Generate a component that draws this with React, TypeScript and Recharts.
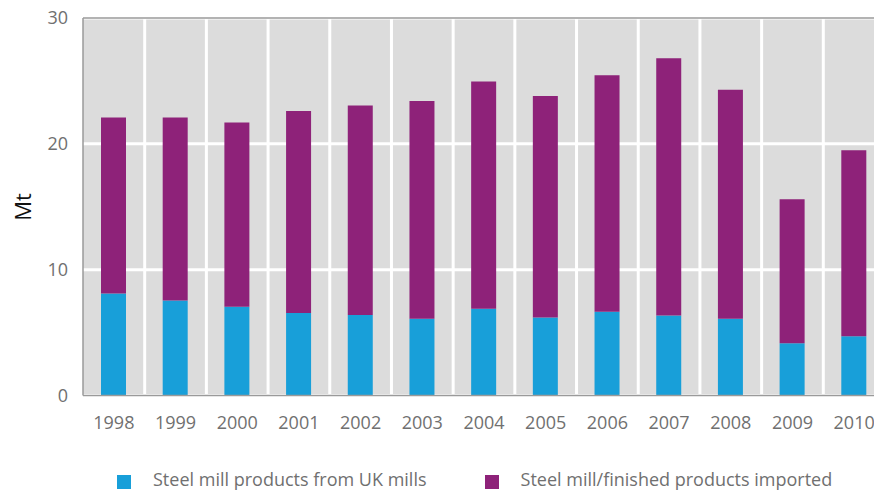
import React from 'react';
import { BarChart, Bar, XAxis, YAxis, CartesianGrid, ReferenceLine } from 'recharts';

const years = ['1998','1999','2000','2001','2002','2003','2004','2005','2006','2007','2008','2009','2010'];
const ukMills = [8.1, 7.55, 7.05, 6.55, 6.4, 6.1, 6.9, 6.2, 6.65, 6.35, 6.1, 4.15, 4.7];
const imported = [14.0, 14.55, 14.65, 16.05, 16.65, 17.3, 18.05, 17.6, 18.8, 20.45, 18.2, 11.45, 14.8];
const yTicks = [0, 10, 20, 30];

const seriesNames = ['Steel mill products from UK mills', 'Steel mill/finished products imported'];
const seriesColors = ['#189fd9', '#8e2279'];

const data = years.map((y, i) => ({ year: y, uk: ukMills[i], imp: imported[i] }));

const FONT = '"Open Sans", "Noto Sans", sans-serif';
const TICK_COLOR = '#707070';

export default function App() {
  const vGen = ({ offset }: any) => {
    const n = years.length;
    const w = offset.width / n;
    const arr: number[] = [];
    for (let i = 1; i < n; i++) arr.push(offset.left + i * w);
    return arr;
  };
  return (
    <div style={{ position: 'fixed', left: 0, top: 0, width: 874, height: 492, overflow: 'hidden', fontFamily: FONT, background: '#fff' }}>
      <div style={{ position: 'absolute', left: 8, top: 0 }}>
        <BarChart
          width={880}
          height={450}
          data={data}
          margin={{ top: 18, right: 3, bottom: 0, left: 0 }}
          barCategoryGap={0}
        >
          <CartesianGrid
            fill="#dcdcdc"
            stroke="#ffffff"
            strokeWidth={3}
            verticalCoordinatesGenerator={vGen}
          />
          <ReferenceLine y={30} stroke="#9a9a9a" strokeWidth={1.5} />
          <XAxis
            dataKey="year"
            tickLine={false}
            axisLine={{ stroke: '#9a9a9a', strokeWidth: 1.5 }}
            height={54.5}
            tickMargin={15}
            interval={0}
            tick={{ fill: TICK_COLOR, fontSize: 18, fontFamily: FONT }}
          />
          <YAxis
            width={75}
            domain={[0, 30]}
            ticks={yTicks}
            tickLine={false}
            axisLine={{ stroke: '#9a9a9a', strokeWidth: 1.5 }}
            tickMargin={9}
            tick={{ fill: TICK_COLOR, fontSize: 18, fontFamily: FONT }}
            label={() => (
              <text
                x={14}
                y={207}
                transform={`rotate(-90, 14, 207)`}
                textAnchor="middle"
                dominantBaseline="central"
                fill="#111"
                fontSize={22}
                fontFamily={FONT}
              >
                Mt
              </text>
            )}
          />
          <Bar dataKey="uk" stackId="a" fill={seriesColors[0]} barSize={25} isAnimationActive={false} />
          <Bar dataKey="imp" stackId="a" fill={seriesColors[1]} barSize={25} isAnimationActive={false} />
        </BarChart>
      </div>
      <div style={{ position: 'absolute', left: 117, top: 470, height: 19, display: 'flex', alignItems: 'center', fontSize: 18, lineHeight: '19px', color: TICK_COLOR, whiteSpace: 'nowrap' }}>
        {seriesNames.map((name, i) => (
          <div key={name} style={{ display: 'flex', alignItems: 'center', marginRight: i === 0 ? 58 : 0 }}>
            <span style={{ display: 'inline-block', width: 14, height: 14, background: seriesColors[i], marginRight: 22, position: 'relative', top: 2 }} />
            <span>{name}</span>
          </div>
        ))}
      </div>
    </div>
  );
}
